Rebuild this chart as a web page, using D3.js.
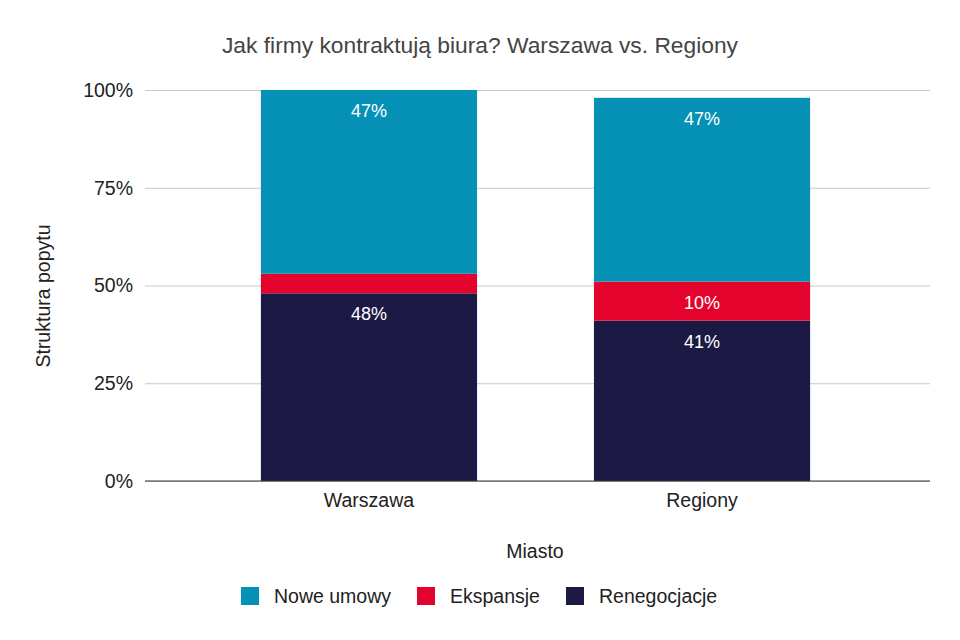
<!DOCTYPE html>
<html>
<head>
<meta charset="utf-8">
<script src="https://cdn.jsdelivr.net/npm/d3@7"></script>
<style>
  body { margin: 0; background: #fff; }
  text { font-family: "Liberation Sans", Arial, sans-serif; }
</style>
</head>
<body>
<div id="chart"></div>
<script>
// data
const cities = ["Warszawa", "Regiony"];
const seriesNames = ["Renegocjacje", "Ekspansje", "Nowe umowy"];
const renegocjacje = [48, 41];
const ekspansje = [5, 10];
const noweUmowy = [47, 47];
const yTicks = [0, 25, 50, 75, 100];
const legendOrder = ["Nowe umowy", "Ekspansje", "Renegocjacje"];

const colors = { "Nowe umowy": "#0591b6", "Ekspansje": "#e4032c", "Renegocjacje": "#1c1a45" };

const W = 960, H = 640;
const margin = { top: 90, right: 30, bottom: 159, left: 145 };
const width = W - margin.left - margin.right;
const height = H - margin.top - margin.bottom;
const fs = "19.5px";

const rows = cities.map((c, i) => ({
  city: c,
  "Renegocjacje": renegocjacje[i],
  "Ekspansje": ekspansje[i],
  "Nowe umowy": noweUmowy[i]
}));
const stacked = d3.stack().keys(seriesNames)(rows);

const svg = d3.select("#chart").append("svg")
  .attr("width", W).attr("height", H);

svg.append("text")
  .attr("x", 480).attr("y", 53)
  .attr("text-anchor", "middle")
  .attr("font-size", "22.8px")
  .attr("fill", "#444")
  .text("Jak firmy kontraktują biura? Warszawa vs. Regiony");

const g = svg.append("g").attr("transform", `translate(${margin.left},${margin.top})`);

const x = d3.scaleBand().domain(cities).range([0, width - 4]).paddingInner(0.351).paddingOuter(0.348);
const y = d3.scaleLinear().domain([0, 100]).range([height, 0]);

// grid + y axis
const yAxis = g.append("g")
  .call(d3.axisLeft(y).tickValues(yTicks).tickSize(-width).tickFormat(d => d + "%").tickPadding(12));
yAxis.select(".domain").remove();
yAxis.selectAll(".tick line").attr("stroke", "#c8c8c8").attr("stroke-width", 1);
yAxis.selectAll(".tick text").attr("font-size", fs).attr("fill", "#222");

// bars
g.selectAll(".series").data(stacked).enter().append("g")
  .attr("class", "series")
  .attr("fill", d => colors[d.key])
  .selectAll("rect").data(d => d).enter().append("rect")
  .attr("x", d => x(d.data.city))
  .attr("width", x.bandwidth())
  .attr("y", d => y(d[1]))
  .attr("height", d => y(d[0]) - y(d[1]));

// labels
stacked.forEach(s => {
  s.forEach(d => {
    const v = d[1] - d[0];
    if (v < 8) return;
    g.append("text")
      .attr("x", x(d.data.city) + x.bandwidth() / 2)
      .attr("y", y(d[1]) + 27)
      .attr("text-anchor", "middle")
      .attr("font-family", "Roboto, sans-serif")
      .attr("font-size", "18px")
      .attr("fill", "#fff")
      .text(v + "%");
  });
});

// baseline
g.append("line")
  .attr("x1", 0).attr("x2", width)
  .attr("y1", height).attr("y2", height)
  .attr("stroke", "#333").attr("stroke-width", 1);

// x axis labels
const xAxis = g.append("g").attr("transform", `translate(0,${height})`)
  .call(d3.axisBottom(x).tickSize(0).tickPadding(12));
xAxis.select(".domain").remove();
xAxis.selectAll(".tick text").attr("font-size", fs).attr("fill", "#222");

svg.append("text")
  .attr("x", 535).attr("y", 558)
  .attr("text-anchor", "middle")
  .attr("font-size", fs).attr("fill", "#222")
  .text("Miasto");

svg.append("text")
  .attr("transform", "translate(50,296) rotate(-90)")
  .attr("text-anchor", "middle")
  .attr("font-size", fs).attr("fill", "#222")
  .text("Struktura popytu");

// legend
const legendX = [241, 417, 566];
const legend = svg.append("g");
legendOrder.forEach((name, i) => {
  legend.append("rect")
    .attr("x", legendX[i]).attr("y", 587)
    .attr("width", 18).attr("height", 18)
    .attr("fill", colors[name]);
  legend.append("text")
    .attr("x", legendX[i] + 33).attr("y", 603)
    .attr("font-size", fs).attr("fill", "#222")
    .text(name);
});
</script>
</body>
</html>
